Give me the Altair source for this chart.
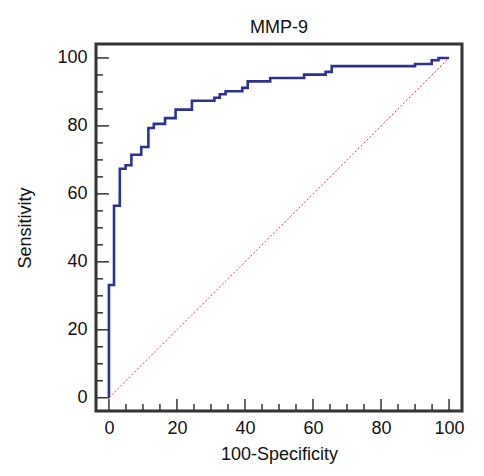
import altair as alt
import pandas as pd

# ROC curve corner points (100-Specificity, Sensitivity), step-after
fpr = [0, 0, 1.5, 3.2, 4.9, 6.6, 9.5, 11.6, 13.2, 16.5, 19.6, 24.4, 31.0, 32.6,
       34.3, 39.2, 40.8, 47.4, 57.4, 63.7, 65.5, 90.0, 94.9, 96.9, 100]
tpr = [0, 33.2, 56.5, 67.4, 68.4, 71.5, 73.8, 79.4, 80.6, 82.3, 84.8, 87.4, 88.3, 89.3,
       90.2, 91.2, 93.1, 94.1, 95.1, 95.9, 97.6, 98.2, 99.3, 100, 100]

diag_x = [0, 100]
diag_y = [0, 100]

major_ticks = [0, 20, 40, 60, 80, 100]
minor_ticks = [5, 10, 15, 25, 30, 35, 45, 50, 55, 65, 70, 75, 85, 90, 95]

W, H = 366, 367
FONT = "Liberation Sans"

curve = pd.DataFrame({"x": fpr, "y": tpr, "i": range(len(fpr))})
diag = pd.DataFrame({"x": diag_x, "y": diag_y})
maj = pd.DataFrame({"t": major_ticks})
mnr = pd.DataFrame({"t": minor_ticks})

xs = alt.Scale(domain=[-3.8, 103.8], nice=False, zero=False)
ys = alt.Scale(domain=[-3.9, 104.1], nice=False, zero=False)

xaxis = alt.Axis(values=major_ticks, ticks=False, domain=False, grid=False,
                 labelFontSize=18, labelPadding=8, labelFont=FONT, labelColor="#111",
                 title="100-Specificity", titleFontSize=18, titleFont=FONT,
                 titleFontWeight="normal", titleColor="#111", titlePadding=8)
yaxis = alt.Axis(values=major_ticks, ticks=False, domain=False, grid=False,
                 labelFontSize=18, labelPadding=9, labelFont=FONT, labelColor="#111",
                 title="Sensitivity", titleFontSize=18, titleFont=FONT,
                 titleFontWeight="normal", titleColor="#111", titlePadding=22)

line = alt.Chart(curve).mark_line(interpolate="step-after", color="#2e3192",
                                  strokeWidth=2.6).encode(
    x=alt.X("x:Q", scale=xs, axis=xaxis),
    y=alt.Y("y:Q", scale=ys, axis=yaxis),
    order="i:Q",
)

diag_line = alt.Chart(diag).mark_line(color="#b84a4a", strokeWidth=1,
                                      strokeDash=[2, 2]).encode(
    x=alt.X("x:Q", scale=xs, axis=xaxis),
    y=alt.Y("y:Q", scale=ys, axis=yaxis),
)

x_major = alt.Chart(maj).mark_rule(color="#333", strokeWidth=1.5).encode(
    x=alt.X("t:Q", scale=xs, axis=xaxis), y=alt.value(H), y2=alt.value(H - 12))
x_minor = alt.Chart(mnr).mark_rule(color="#333", strokeWidth=1.5).encode(
    x=alt.X("t:Q", scale=xs, axis=xaxis), y=alt.value(H), y2=alt.value(H - 7))
y_major = alt.Chart(maj).mark_rule(color="#333", strokeWidth=1.5).encode(
    y=alt.Y("t:Q", scale=ys, axis=yaxis), x=alt.value(0), x2=alt.value(13))
y_minor = alt.Chart(mnr).mark_rule(color="#333", strokeWidth=1.5).encode(
    y=alt.Y("t:Q", scale=ys, axis=yaxis), x=alt.value(0), x2=alt.value(7))

chart = alt.layer(diag_line, x_major, x_minor, y_major, y_minor, line).properties(
    width=W, height=H,
    title=alt.TitleParams("MMP-9", fontSize=18, font=FONT, fontWeight="normal",
                          color="#111", offset=7),
    autosize=alt.AutoSizeParams(type="none"),
    padding={"left": 88, "top": 36, "right": 14, "bottom": 60},
).configure_view(stroke="#333333", strokeWidth=3)

chart.save("out.html", embed_options={"renderer": "svg", "actions": False})
